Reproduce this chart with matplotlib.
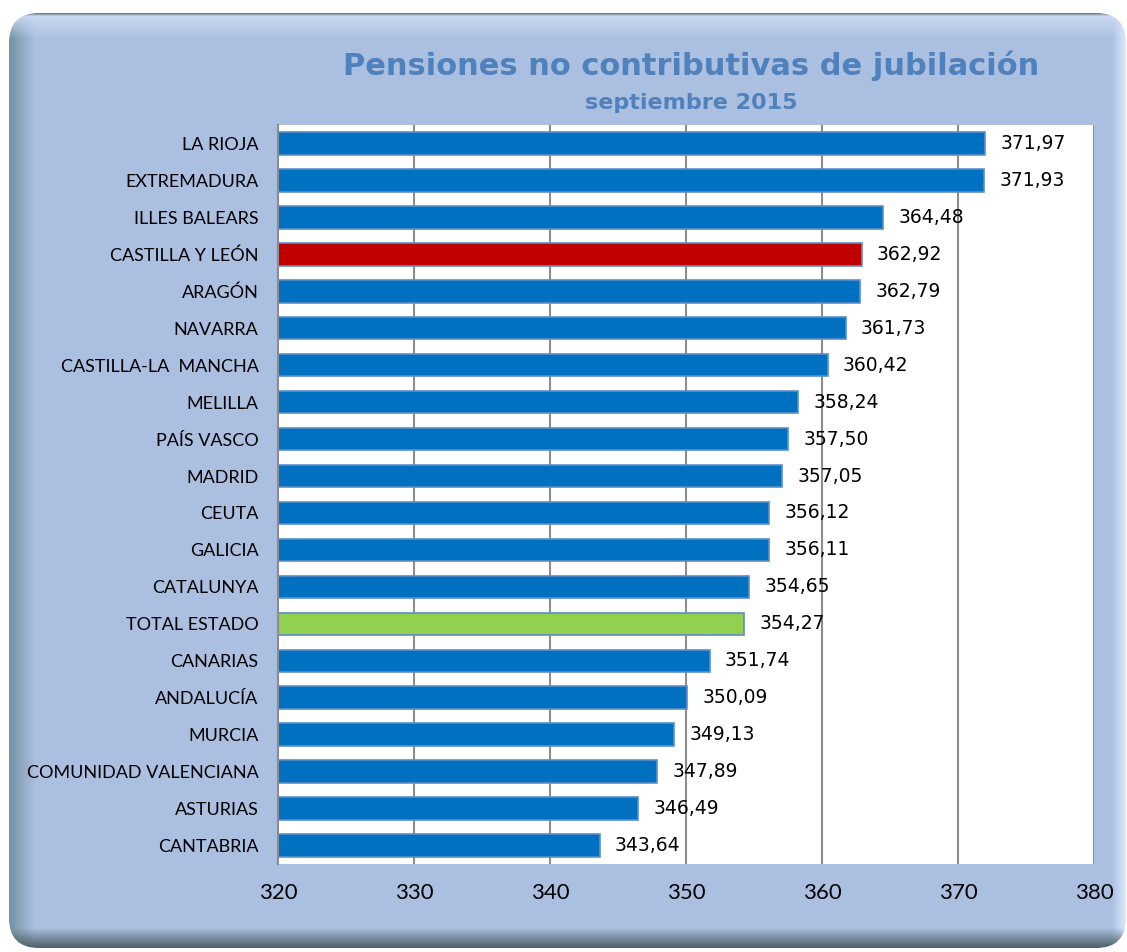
import numpy as np
import matplotlib
matplotlib.use("Agg")
import matplotlib.pyplot as plt
from matplotlib.patches import FancyBboxPatch

# Pension amounts by region (euros), sorted from highest to lowest
regions = [
    "LA RIOJA", "EXTREMADURA", "ILLES BALEARS", "CASTILLA Y LEÓN", "ARAGÓN",
    "NAVARRA", "CASTILLA-LA  MANCHA", "MELILLA", "PAÍS VASCO", "MADRID",
    "CEUTA", "GALICIA", "CATALUNYA", "TOTAL ESTADO", "CANARIAS",
    "ANDALUCÍA", "MURCIA", "COMUNIDAD VALENCIANA", "ASTURIAS", "CANTABRIA",
]
amounts = [
    371.97, 371.93, 364.48, 362.92, 362.79,
    361.73, 360.42, 358.24, 357.50, 357.05,
    356.12, 356.11, 354.65, 354.27, 351.74,
    350.09, 349.13, 347.89, 346.49, 343.64,
]
x_ticks = [320, 330, 340, 350, 360, 370, 380]

W, H = 1127, 952
fig = plt.figure(figsize=(W / 100, H / 100), dpi=100)
fig.patch.set_facecolor("white")

# ---- bevelled rounded frame behind the chart ----
bg = fig.add_axes([0, 0, 1, 1])
bg.set_xlim(0, W)
bg.set_ylim(H, 0)
bg.axis("off")

x0, x1, y0, y1 = 9, 1126, 13, 948
base = np.array([171, 191, 224]) / 255
img = np.ones((H, W, 3)) * base
xx, yy = np.meshgrid(np.arange(W) + 0.5, np.arange(H) + 0.5)

def blend(img, weight, color):
    c = np.array(color) / 255
    w = np.clip(weight, 0, 1)[..., None]
    return img * (1 - w) + c * w

img = blend(img, 1 - (xx - x0) / 26, (115, 145, 160))   # left
img = blend(img, 1 - (x1 - xx) / 14, (220, 235, 255))   # right
img = blend(img, 1 - (yy - y0) / 26, (205, 220, 245))   # top
img = blend(img, 1 - (y1 - yy) / 20, (75, 95, 100))     # bottom
img = blend(img, 1 - (yy - y0) / 3, (90, 110, 115))     # top outline

frame = FancyBboxPatch((x0, y0), x1 - x0, y1 - y0,
                       boxstyle="round,pad=0,rounding_size=30",
                       facecolor="none", edgecolor="none")
bg.add_patch(frame)
im = bg.imshow(img, extent=(0, W, H, 0), interpolation="bilinear", zorder=0)
im.set_clip_path(frame)

# ---- titles ----
title_color = "#4F81BD"
fig.text(691 / W, 1 - 66 / H, "Pensiones no contributivas de jubilación",
         ha="center", va="center", fontsize=22, fontweight="bold",
         color=title_color, family="DejaVu Sans")
fig.text(691 / W, 1 - 103 / H, "septiembre 2015",
         ha="center", va="center", fontsize=16, fontweight="bold",
         color=title_color, family="DejaVu Sans")

# ---- bar chart ----
ax = fig.add_axes([278 / W, 1 - 864 / H, (1094 - 278) / W, (864 - 125) / H])
ax.set_facecolor("white")

colors = []
for r in regions:
    if r == "CASTILLA Y LEÓN":
        colors.append("#C00000")
    elif r == "TOTAL ESTADO":
        colors.append("#92D050")
    else:
        colors.append("#0070C0")

y = np.arange(len(regions))
bars = ax.barh(y, amounts, height=0.61, left=0, color=colors,
               edgecolor="#5B8FC9", linewidth=1.2, zorder=3)

ax.set_xlim(x_ticks[0], x_ticks[-1])
ax.set_ylim(len(regions) - 0.5, -0.5)
ax.set_xticks(x_ticks)
ax.set_yticks(y)
ax.set_yticklabels(regions, fontsize=13, family="Lato")
ax.set_xticklabels([str(t) for t in x_ticks], fontsize=16, family="Lato")
ax.tick_params(axis="both", length=0)
ax.tick_params(axis="y", pad=14)
ax.tick_params(axis="x", pad=14)

for xt in x_ticks[1:]:
    ax.axvline(xt, color="#8C8C8C", linewidth=1.5, zorder=1)

for side in ["top", "bottom", "right"]:
    ax.spines[side].set_visible(False)
ax.spines["left"].set_color("#8C8C8C")
ax.spines["left"].set_linewidth(1.5)
ax.spines["left"].set_zorder(4)

for yi, v in zip(y, amounts):
    ax.annotate(f"{v:.2f}".replace(".", ","), (v, yi),
                xytext=(11, 0), textcoords="offset points",
                ha="left", va="center", fontsize=13.5, family="DejaVu Sans",
                color="black", zorder=5)

fig.savefig("out.png", dpi=100)
